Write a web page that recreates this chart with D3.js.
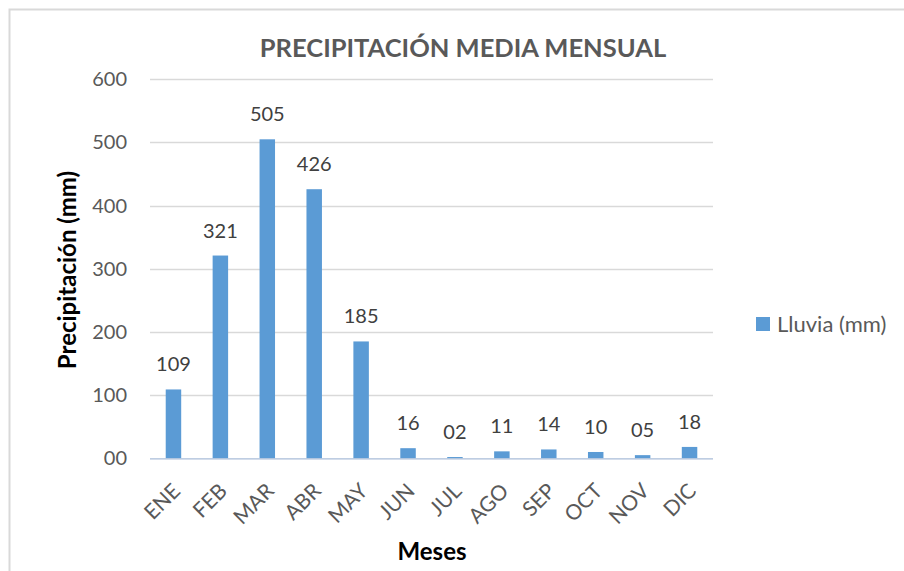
<!DOCTYPE html>
<html>
<head>
<meta charset="utf-8">
<script src="https://cdn.jsdelivr.net/npm/d3@7"></script>
<style>
  body { margin: 0; background: #fff; }
  svg text { font-family: Lato, "Open Sans", sans-serif; }
</style>
</head>
<body>
<div class="chart"></div>
<script>
const meses = ["ENE","FEB","MAR","ABR","MAY","JUN","JUL","AGO","SEP","OCT","NOV","DIC"];
const lluvia = [109, 321, 505, 426, 185, 16, 2, 11, 14, 10, 5, 18];
const yTicks = [0, 100, 200, 300, 400, 500, 600];

const w = 904, h = 571;
const plotL = 150, plotR = 713, plotT = 79.3, plotB = 458.3;

const svg = d3.select(".chart").append("svg")
  .attr("width", w).attr("height", h);

// chart border
svg.append("rect")
  .attr("x", 9.5).attr("y", 9.5)
  .attr("width", w).attr("height", h)
  .attr("fill", "none").attr("stroke", "#d9d9d9").attr("stroke-width", 2);

const x = d3.scaleBand().domain(meses).range([plotL, plotR]).paddingInner(0.67).paddingOuter(0.335);
const y = d3.scaleLinear().domain([0, 600]).range([plotB, plotT]);
const fmt = d3.format("02d");

// gridlines
svg.append("g").selectAll("line")
  .data(yTicks.filter(d => d > 0))
  .enter().append("line")
  .attr("x1", plotL).attr("x2", plotR)
  .attr("y1", d => Math.round(y(d)) + 0.5).attr("y2", d => Math.round(y(d)) + 0.5)
  .attr("stroke", "#d9d9d9").attr("stroke-width", 1.3);

// y axis labels
const yAxis = d3.axisLeft(y).tickValues(yTicks).tickFormat(fmt).tickSize(0).tickPadding(23);
const gy = svg.append("g").attr("transform", `translate(${plotL},0)`).call(yAxis);
gy.select(".domain").remove();
gy.selectAll("text").attr("font-size", 20).attr("fill", "#595959")
  .attr("font-family", "Lato, 'Open Sans', sans-serif");

// bars
svg.append("g").selectAll("rect")
  .data(lluvia)
  .enter().append("rect")
  .attr("x", (d, i) => x(meses[i]))
  .attr("width", x.bandwidth())
  .attr("y", d => y(d))
  .attr("height", d => plotB - y(d))
  .attr("fill", "#5b9bd5");

// value labels
svg.append("g").selectAll("text")
  .data(lluvia)
  .enter().append("text")
  .attr("x", (d, i) => x(meses[i]) + x.bandwidth() / 2)
  .attr("y", d => y(d) - 18)
  .attr("text-anchor", "middle")
  .attr("font-size", 20)
  .attr("fill", "#404040")
  .text(d => fmt(d));

// x axis
const xAxis = d3.axisBottom(x).tickSize(0).tickPadding(0);
const gx = svg.append("g").attr("transform", `translate(0,${plotB})`).call(xAxis);
gx.select(".domain").attr("stroke", "#a9bcd8").attr("stroke-width", 1.3)
  .attr("d", `M${plotL},0.5H${plotR}`);
gx.selectAll("text")
  .attr("font-size", 21).attr("fill", "#595959")
  .attr("font-family", "Lato, 'Open Sans', sans-serif")
  .attr("text-anchor", "end")
  .attr("dy", null)
  .attr("transform", "translate(8,34) rotate(-45)");

// title
svg.append("text")
  .attr("x", 463).attr("y", 57)
  .attr("text-anchor", "middle")
  .attr("font-size", 25.5).attr("font-weight", "bold")
  .attr("fill", "#595959")
  .text("PRECIPITACIÓN MEDIA MENSUAL");

// axis titles
svg.append("text")
  .attr("transform", "translate(76,270) rotate(-90)")
  .attr("text-anchor", "middle")
  .attr("font-size", 24).attr("font-weight", "bold")
  .attr("fill", "#000")
  .text("Precipitación (mm)");

svg.append("text")
  .attr("x", 432).attr("y", 560)
  .attr("text-anchor", "middle")
  .attr("font-size", 24).attr("font-weight", "bold")
  .attr("fill", "#000")
  .text("Meses");

// legend
svg.append("rect")
  .attr("x", 756).attr("y", 317).attr("width", 14).attr("height", 14)
  .attr("fill", "#5b9bd5");
svg.append("text")
  .attr("x", 777).attr("y", 332)
  .attr("font-size", 22).attr("fill", "#595959")
  .text("Lluvia (mm)");
</script>
</body>
</html>
